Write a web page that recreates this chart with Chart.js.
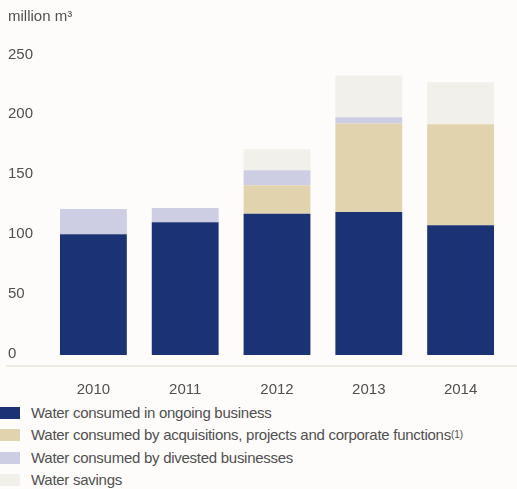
<!DOCTYPE html>
<html lang="en">

<head>
    <meta charset="UTF-8">
    <title>Water consumption</title>
    <script src="https://cdn.jsdelivr.net/npm/chart.js"></script>
    <style>
        body {
            margin: 0;
            background: #fdfcfa;
            font-family: "Liberation Sans", Arial, sans-serif;
            color: #505050;
        }

        #wrap {
            position: relative;
            width: 517px;
            height: 400px;
        }

        #legend {
            margin: 2px 0 0 0;
            padding: 0;
            list-style: none;
            font-size: 15px;
            letter-spacing: -0.27px;
        }

        #legend li {
            height: 22.3px;
            line-height: 22.3px;
            display: flex;
            align-items: center;
        }

        #legend .box {
            width: 20px;
            height: 12px;
            margin-right: 11px;
        }

        #legend sup {
            font-size: 10px;
            line-height: 0;
            vertical-align: 6px;
            letter-spacing: 0;
        }
    </style>
</head>

<body>
    <div id="wrap">
        <canvas id="myChart"></canvas>
    </div>
    <ul id="legend"></ul>
    <script>
        // data
        const years = ['2010', '2011', '2012', '2013', '2014'];
        const seriesNames = [
            'Water consumed in ongoing business',
            'Water consumed by acquisitions, projects and corporate functions',
            'Water consumed by divested businesses',
            'Water savings'
        ];
        const seriesNotes = ['', '(1)', '', ''];
        const seriesColors = ['#1b3275', '#e0d3ad', '#cdcde3', '#f2f0ea'];

        const ongoing = [101, 111, 118, 119.5, 108.5];
        const acquisitions = [0, 0, 24, 74, 84.5];
        const divested = [21, 12, 12.5, 5.3, 0];
        const savings = [0, 0, 17.5, 35, 35];

        const yTicks = [0, 50, 100, 150, 200, 250];

        const values = [ongoing, acquisitions, divested, savings];

        const textColor = '#505050';
        const font15 = { family: '"Liberation Sans", Arial, sans-serif', size: 15 };

        // light rule under the bars
        const baseRule = {
            id: 'baseRule',
            afterDraw(chart) {
                const c = chart.ctx;
                const y = chart.chartArea.bottom + 11;
                c.save();
                c.strokeStyle = '#eeebe3';
                c.lineWidth = 2;
                c.beginPath();
                c.moveTo(6, y);
                c.lineTo(chart.width, y);
                c.stroke();
                c.restore();
            }
        };

        const data = {
            labels: years,
            datasets: values.map((v, i) => ({
                label: seriesNames[i],
                data: v,
                backgroundColor: seriesColors[i],
                borderWidth: 0,
                categoryPercentage: 1,
                barPercentage: 0.728
            }))
        };

        const config = {
            type: 'bar',
            data,
            plugins: [baseRule],
            options: {
                responsive: true,
                maintainAspectRatio: false,
                animation: false,
                layout: {
                    padding: { left: 8, right: 10.5, top: 0, bottom: 0 }
                },
                scales: {
                    x: {
                        stacked: true,
                        grid: { display: false, drawTicks: false },
                        border: { display: false },
                        ticks: {
                            color: textColor,
                            font: font15,
                            padding: 26
                        },
                        afterFit(scale) {
                            scale.height = 45;
                        }
                    },
                    y: {
                        stacked: true,
                        min: 0,
                        max: 250,
                        grid: { display: false, drawTicks: false },
                        border: { display: false },
                        afterBuildTicks(scale) {
                            scale.ticks = yTicks.map(v => ({ value: v }));
                        },
                        ticks: {
                            color: textColor,
                            font: font15,
                            crossAlign: 'far',
                            labelOffset: -1.5,
                            padding: 0
                        },
                        afterFit(scale) {
                            scale.width = 39.5;
                        }
                    }
                },
                plugins: {
                    legend: { display: false },
                    tooltip: { enabled: false },
                    title: {
                        display: true,
                        text: 'million m³',
                        align: 'start',
                        color: textColor,
                        font: { family: font15.family, size: 15, weight: 'normal' },
                        padding: { top: 8, bottom: 30 }
                    }
                }
            }
        };

        const myChart = new Chart(document.getElementById('myChart'), config);

        // legend list
        const legend = document.getElementById('legend');
        seriesNames.forEach((name, i) => {
            const li = document.createElement('li');
            const box = document.createElement('span');
            box.className = 'box';
            box.style.background = seriesColors[i];
            li.appendChild(box);
            li.appendChild(document.createTextNode(name));
            if (seriesNotes[i]) {
                const sup = document.createElement('sup');
                sup.textContent = seriesNotes[i];
                li.appendChild(sup);
            }
            legend.appendChild(li);
        });
    </script>
</body>

</html>
